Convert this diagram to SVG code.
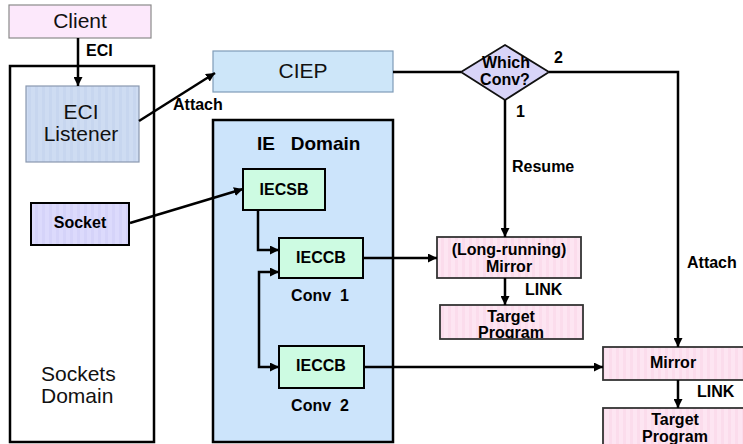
<svg xmlns="http://www.w3.org/2000/svg" width="743" height="444" viewBox="0 0 743 444">
<style>
.b{font-family:"Liberation Sans",Arial,sans-serif;font-weight:bold;font-size:16px;fill:#000}
.n{font-family:"Liberation Sans",Arial,sans-serif;font-size:21px;fill:#111}
.c{text-anchor:middle}
.ln{fill:none;stroke:#000;stroke-width:2.5}
.pink{fill:url(#pinkS);stroke:#333;stroke-width:1.8}
</style>
<defs>
<pattern id="pinkS" width="7" height="10" patternUnits="userSpaceOnUse"><rect width="7" height="10" fill="#fde5f2"/><rect width="3" height="10" fill="#fbdcec"/></pattern>
<pattern id="blueS" width="7" height="10" patternUnits="userSpaceOnUse"><rect width="7" height="10" fill="#cedcf2"/><rect width="3" height="10" fill="#c7d6ef"/></pattern>
<pattern id="lavS" width="7" height="10" patternUnits="userSpaceOnUse"><rect width="7" height="10" fill="#dcdafc"/><rect width="3" height="10" fill="#d5d3f9"/></pattern>
<marker id="ah" viewBox="0 0 10 10" refX="10" refY="5" markerWidth="9" markerHeight="9" markerUnits="userSpaceOnUse" orient="auto-start-reverse"><path d="M0,0 L10,5 L0,10 z" fill="#000"/></marker>
<clipPath id="tp1"><rect x="440" y="305" width="143" height="34"/></clipPath>
<clipPath id="tp2"><rect x="603" y="408" width="140" height="36"/></clipPath>
</defs>

<g id="sockets-domain"><rect x="10" y="66" width="144" height="376" fill="#fff" stroke="#000" stroke-width="2.5"/><text class="n" x="41" y="381">Sockets</text><text class="n" x="41" y="403">Domain</text></g>
<g id="ie-domain"><rect x="213" y="120" width="180" height="322" fill="#cce4fb" stroke="#000" stroke-width="2.5"/><text class="b" x="257" y="150" style="font-size:19px" xml:space="preserve">IE   Domain</text></g>

<g id="client"><rect x="9" y="5" width="142" height="33" fill="#fce8fb" stroke="#8a8a8a" stroke-width="1.2"/><text class="n c" x="80" y="28">Client</text></g>
<g id="eci-listener"><rect x="26" y="86" width="113" height="76" fill="url(#blueS)" stroke="#8a98b0" stroke-width="1.2"/><text class="n c" x="81" y="119">ECI</text><text class="n c" x="81" y="141">Listener</text></g>
<g id="socket"><rect x="31" y="203" width="98" height="42" fill="url(#lavS)" stroke="#000" stroke-width="2"/><text class="b c" x="80" y="228">Socket</text></g>
<g id="ciep"><rect x="213" y="51" width="180" height="41" fill="#cde6f9" stroke="#7f9cb8" stroke-width="1.2"/><text class="n c" x="303" y="78">CIEP</text></g>
<g id="which-conv"><path d="M505,45 L549,72 L505,100 L461,72 z" fill="#d8d4f8" stroke="#111" stroke-width="1.8"/><text class="b c" x="506" y="68">Which</text><text class="b c" x="505" y="85">Conv?</text></g>
<g id="iecsb"><rect x="243" y="169" width="82" height="41" fill="#cdfbe2" stroke="#000" stroke-width="2"/><text class="b c" x="284" y="195">IECSB</text></g>
<g id="ieccb1"><rect x="279" y="238" width="84" height="40" fill="#cdfbe2" stroke="#000" stroke-width="2"/><text class="b c" x="321" y="263">IECCB</text><text class="b c" x="320" y="301" xml:space="preserve">Conv  1</text></g>
<g id="ieccb2"><rect x="279" y="346" width="85" height="42" fill="#cdfbe2" stroke="#000" stroke-width="2"/><text class="b c" x="321" y="371">IECCB</text><text class="b c" x="320" y="411" xml:space="preserve">Conv  2</text></g>
<g id="lr-mirror"><rect class="pink" x="437" y="237" width="144" height="41"/><text class="b c" x="509" y="255">(Long-running)</text><text class="b c" x="509" y="272">Mirror</text></g>
<g id="target1"><rect x="440" y="305" width="143" height="34" fill="url(#pinkS)"/><g clip-path="url(#tp1)"><text class="b c" x="511" y="322">Target</text><text class="b c" x="511" y="338">Program</text></g><rect x="440" y="305" width="143" height="34" fill="none" stroke="#333" stroke-width="1.8"/></g>
<g id="mirror"><rect class="pink" x="603" y="347" width="145" height="33"/><text class="b c" x="673" y="368">Mirror</text></g>
<g id="target2"><rect x="603" y="408" width="145" height="40" fill="url(#pinkS)"/><g clip-path="url(#tp2)"><text class="b c" x="675" y="425">Target</text><text class="b c" x="675" y="442">Program</text></g><rect x="603" y="408" width="145" height="40" fill="none" stroke="#333" stroke-width="1.8"/></g>

<g id="connectors">
<path class="ln" d="M78,38 V86" marker-end="url(#ah)"/>
<path class="ln" d="M139,121 L215,73" marker-end="url(#ah)"/>
<path class="ln" d="M130,223 L243,189" marker-end="url(#ah)"/>
<path class="ln" d="M393,72 H461"/>
<path class="ln" d="M549,72 H678 V347" marker-end="url(#ah)"/>
<path class="ln" d="M505,100 V237" marker-end="url(#ah)"/>
<path class="ln" d="M258,210 V250 H279" marker-end="url(#ah)"/>
<path class="ln" d="M279,272 H259 V367 H279" marker-start="url(#ah)" marker-end="url(#ah)"/>
<path class="ln" d="M363,258 H437" marker-end="url(#ah)"/>
<path class="ln" d="M364,367 H603" marker-end="url(#ah)"/>
<path class="ln" d="M505,278 V305" marker-end="url(#ah)"/>
<path class="ln" d="M678,380 V408" marker-end="url(#ah)"/>
<text class="b" x="86" y="56">ECI</text>
<text class="b" x="173" y="110">Attach</text>
<text class="b" x="554" y="63">2</text>
<text class="b" x="516" y="117">1</text>
<text class="b" x="512" y="172">Resume</text>
<text class="b" x="525" y="295">LINK</text>
<text class="b" x="687" y="268">Attach</text>
<text class="b" x="697" y="397">LINK</text>
</g>
</svg>
